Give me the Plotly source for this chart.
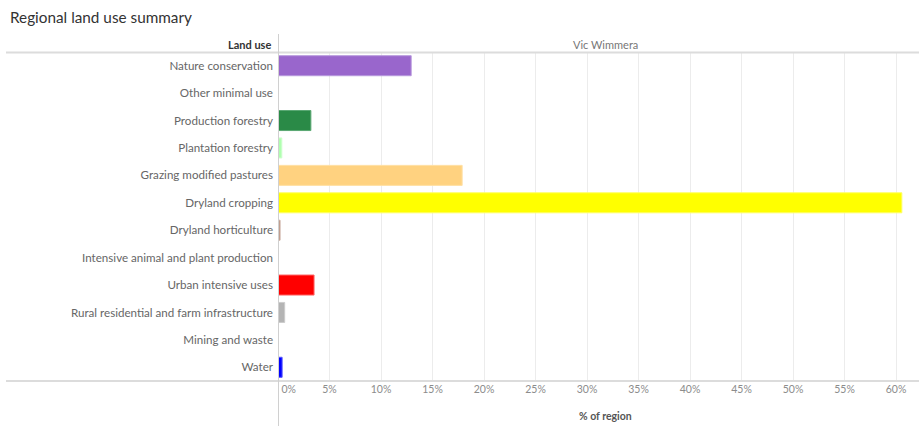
import plotly.graph_objects as go

categories = [
    "Nature conservation",
    "Other minimal use",
    "Production forestry",
    "Plantation forestry",
    "Grazing modified pastures",
    "Dryland cropping",
    "Dryland horticulture",
    "Intensive animal and plant production",
    "Urban intensive uses",
    "Rural residential and farm infrastructure",
    "Mining and waste",
    "Water",
]
values = [12.93, 0.0, 3.19, 0.37, 17.88, 60.57, 0.2, 0.0, 3.5, 0.65, 0.0, 0.4]
colors = ["#9966cc", "#d9d9d9", "#2a8a47", "#b0ffb0", "#ffd280", "#ffff00",
          "#b8907f", "#ffaaff", "#ff0000", "#b4b4b4", "#888888", "#0000ff"]
border_colors = ["#b899dd", "#e6e6e6", "#5aa872", "#ccffcc", "#ffe0a6", "#ffff66",
                 "#cdb0a4", "#ffccff", "#ff6666", "#cccccc", "#aaaaaa", "#5555ff"]
tick_vals = [0, 5, 10, 15, 20, 25, 30, 35, 40, 45, 50, 55, 60]
tick_text = ["\u00a0" * 8 + "0%"] + [f"{v}%" for v in tick_vals[1:]]

W, H = 919, 426
L, R, T, B = 278, 0, 52, 45
pw, ph = W - L - R, H - T - B

def px_x(x):
    return (x - L) / pw

def px_y(y):
    return (H - B - y) / ph

FONT = "Lato, Noto Sans, sans-serif"

fig = go.Figure(go.Bar(
    x=values,
    y=categories,
    orientation="h",
    marker=dict(color=colors, line=dict(color=border_colors, width=1)),
    width=0.73,
    hoverinfo="skip",
))

fig.update_layout(
    width=W, height=H,
    margin=dict(l=L, r=R, t=T, b=B),
    paper_bgcolor="white",
    plot_bgcolor="white",
    font=dict(family=FONT, color="#666666", size=11),
    showlegend=False,
    title=dict(text="Regional land use summary", x=10 / W, xanchor="left",
               y=1 - 18 / H, yanchor="middle",
               font=dict(size=15.3, color="#333333", family=FONT)),
    xaxis=dict(
        range=[0, pw / 10.3],
        tickvals=tick_vals,
        ticktext=tick_text,
        showgrid=True,
        gridcolor="#ececec",
        gridwidth=1,
        zeroline=False,
        showline=False,
        ticks="",
        tickfont=dict(size=10.5, color="#8c8c8c"),
        fixedrange=True,
    ),
    yaxis=dict(
        autorange=False,
        range=[len(categories) - 0.5, -0.5],
        categoryorder="array",
        categoryarray=categories,
        showgrid=False,
        zeroline=False,
        showline=False,
        ticks="",
        ticklabelstandoff=4,
        tickfont=dict(size=11.6, color="#666666"),
        fixedrange=True,
    ),
    bargap=0.27,
)

line_col = "#dcdcdc"
fig.add_shape(type="line", xref="paper", yref="paper",
              x0=px_x(6), x1=px_x(W), y0=px_y(52.5), y1=px_y(52.5),
              line=dict(color=line_col, width=2))
fig.add_shape(type="line", xref="paper", yref="paper",
              x0=px_x(6), x1=px_x(W), y0=px_y(381), y1=px_y(381),
              line=dict(color=line_col, width=2))
fig.add_shape(type="line", xref="paper", yref="paper",
              x0=px_x(278.5), x1=px_x(278.5), y0=px_y(34), y1=px_y(H),
              line=dict(color="#d0d0d0", width=1))

fig.add_annotation(text="<b>Land use</b>", xref="paper", yref="paper",
                   x=px_x(273), y=px_y(44), xanchor="right", yanchor="middle",
                   showarrow=False, font=dict(size=11, color="#333333"))
fig.add_annotation(text="Vic Wimmera", xref="paper", yref="paper",
                   x=px_x(605), y=px_y(44), xanchor="center", yanchor="middle",
                   showarrow=False, font=dict(size=11, color="#777777"))
fig.add_annotation(text="<b>% of region</b>", xref="paper", yref="paper",
                   x=px_x(605), y=px_y(416), xanchor="center", yanchor="middle",
                   showarrow=False, font=dict(size=10.5, color="#555555"))

fig.write_html("out.html",
               config={"displayModeBar": False, "staticPlot": True},
               post_script="document.body.style.margin='0';document.body.style.overflow='hidden';")
